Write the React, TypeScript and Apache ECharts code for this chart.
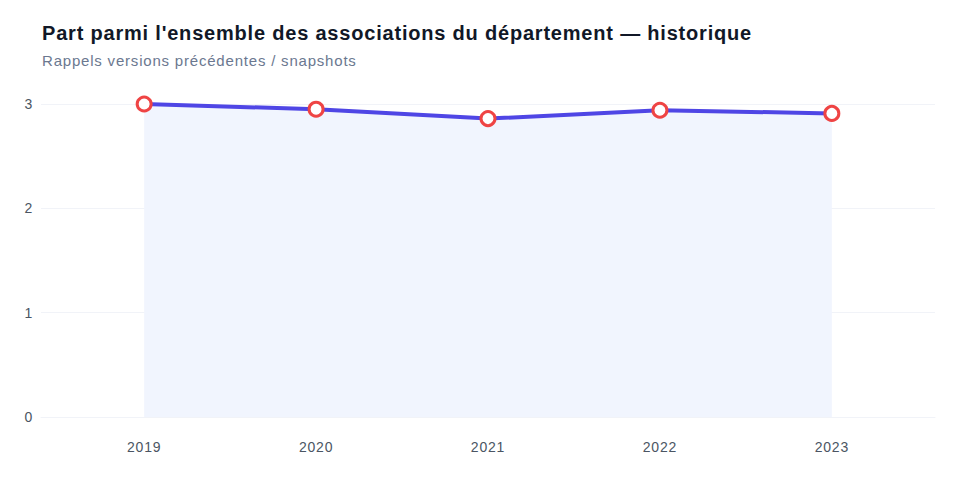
import React, { useEffect, useRef } from "react";
import * as echarts from "echarts";

const years = [2019, 2020, 2021, 2022, 2023];
const shares = [3.0, 2.95, 2.86, 2.94, 2.91];
const yTicks = [0, 1, 2, 3];

const TITLE = "Part parmi l'ensemble des associations du département — historique";
const SUBTITLE = "Rappels versions précédentes / snapshots";

export default function App() {
  const ref = useRef<HTMLDivElement>(null);

  useEffect(() => {
    if (!ref.current) return;
    const chart = echarts.init(ref.current, null, { renderer: "svg" });
    const font = "'Liberation Sans', Arial, Helvetica, sans-serif";
    chart.setOption({
      animation: false,
      textStyle: { fontFamily: font },
      title: {
        text: TITLE,
        subtext: SUBTITLE,
        left: 29,
        top: 10,
        itemGap: 10,
        textStyle: { fontSize: 20, fontWeight: "bold", color: "#111827", fontFamily: font },
        subtextStyle: { fontSize: 15, color: "#6b7890", fontFamily: font },
      },
      grid: { left: 33, right: 17, top: 96, bottom: 55, containLabel: false },
      xAxis: {
        type: "value",
        min: 2018.4,
        max: 2023.6,
        splitLine: { show: false },
        axisLine: { show: true, lineStyle: { color: "#f1f3f8", width: 1 } },
        axisTick: { show: false },
        axisLabel: {
          customValues: years,
          formatter: (v: number) => String(Math.round(v)),
          color: "#4b5563",
          fontSize: 14,
          margin: 23,
        },
      },
      yAxis: {
        type: "value",
        min: yTicks[0],
        max: yTicks[yTicks.length - 1],
        interval: 1,
        axisLine: { show: false },
        axisTick: { show: false },
        splitLine: { lineStyle: { color: "#f1f3f8", width: 1 } },
        axisLabel: { color: "#4b5563", fontSize: 14, margin: 8 },
      },
      series: [
        {
          type: "line",
          data: years.map((y, i) => [y, shares[i]]),
          symbol: "circle",
          symbolSize: 14,
          showAllSymbol: true,
          lineStyle: { color: "#4f46e5", width: 4 },
          itemStyle: { color: "#ffffff", borderColor: "#ef4444", borderWidth: 3 },
          areaStyle: { color: "#f1f5fe", opacity: 1 },
        },
      ],
    });
    return () => chart.dispose();
  }, []);

  return (
    <>
      <style>{".hist-chart svg text { letter-spacing: 0.8px; }"}</style>
      <div className="hist-chart" ref={ref} style={{ width: 944, height: 464 }} />
    </>
  );
}
